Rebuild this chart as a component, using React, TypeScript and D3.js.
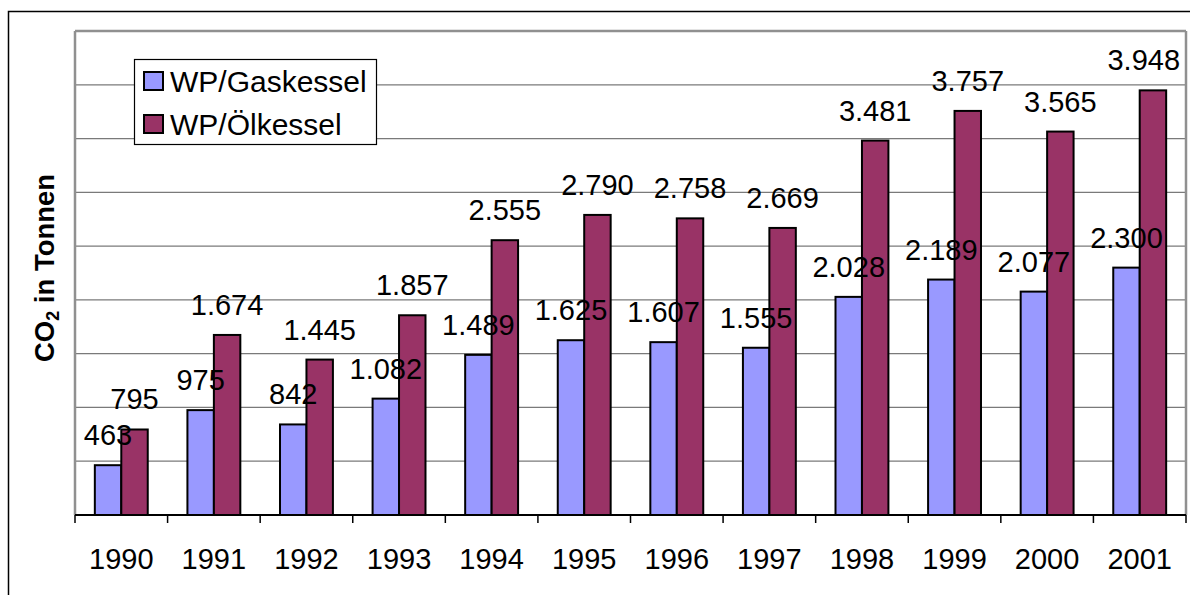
import React from "react";
import * as d3 from "d3";

const years = ["1990", "1991", "1992", "1993", "1994", "1995", "1996", "1997", "1998", "1999", "2000", "2001"];
const gasValues = [463, 975, 842, 1082, 1489, 1625, 1607, 1555, 2028, 2189, 2077, 2300];
const oilValues = [795, 1674, 1445, 1857, 2555, 2790, 2758, 2669, 3481, 3757, 3565, 3948];
const seriesNames = ["WP/Gaskessel", "WP/Ölkessel"];
const seriesColors = ["#9999FF", "#993366"];
const yTicks = [0, 500, 1000, 1500, 2000, 2500, 3000, 3500, 4000, 4500];

const W = 1190;
const H = 595;
const left = 75;
const right = 1186;
const top = 31;
const bottom = 515;
const font = "Liberation Sans, Arial, sans-serif";

const fmt = (v: number) => d3.format(",")(v).replace(/,/g, ".");

export default function App() {
  const x = d3.scaleBand<string>().domain(years).range([left, right]).paddingInner(0).paddingOuter(0);
  const bw = x.bandwidth();
  const barW = bw / 3.5;
  const inner = d3.scaleBand<number>().domain([0, 1]).range([0.75 * barW, 2.75 * barW]);
  const y = d3.scaleLinear().domain([0, 4500]).range([bottom, top]);
  const series = [gasValues, oilValues];
  const fs = 29;

  return (
    <svg width={W} height={H} style={{ position: "absolute", left: 0, top: 0, background: "#fff" }} fontFamily={font}>
      <rect x={0} y={0} width={W} height={H} fill="#fff" />
      <rect x={8.5} y={11.5} width={W + 10} height={H + 10} fill="none" stroke="#000" strokeWidth={1.5} />
      {yTicks.slice(1).map((t) => (
        <line key={t} x1={left} x2={right} y1={y(t)} y2={y(t)} stroke="#7a7a7a" strokeWidth={1.3} />
      ))}
      <line x1={left} x2={left} y1={top} y2={bottom} stroke="#909090" strokeWidth={2.5} />
      <line x1={right} x2={right} y1={top} y2={bottom} stroke="#909090" strokeWidth={2.5} />
      <line x1={left} x2={right} y1={top} y2={top} stroke="#909090" strokeWidth={2.5} />
      {series.map((vals, si) =>
        vals.map((v, i) => (
          <rect
            key={`${si}-${i}`}
            x={(x(years[i]) as number) + (inner(si) as number)}
            y={y(v)}
            width={inner.bandwidth()}
            height={bottom - y(v)}
            fill={seriesColors[si]}
            stroke="#000"
            strokeWidth={2}
          />
        ))
      )}
      <line x1={left} x2={right} y1={bottom} y2={bottom} stroke="#000" strokeWidth={2} />
      {years.concat(["end"]).map((yr, i) => {
        const xx = left + i * bw;
        return <line key={yr} x1={xx} x2={xx} y1={bottom} y2={bottom + 8} stroke="#000" strokeWidth={1.5} />;
      })}
      {years.map((yr) => (
        <text key={yr} x={(x(yr) as number) + bw / 2} y={569} textAnchor="middle" fontSize={fs} fill="#000">
          {yr}
        </text>
      ))}
      {series.map((vals, si) =>
        vals.map((v, i) => {
          const label = fmt(v);
          const cx = (x(years[i]) as number) + (inner(si) as number) + inner.bandwidth() / 2;
          const estW = label.length * fs * 0.5;
          const adj = Math.min(cx, 1180 - estW / 2);
          return (
            <text key={`l${si}-${i}`} x={adj} y={y(v) - 20} textAnchor="middle" fontSize={fs} fill="#000">
              {label}
            </text>
          );
        })
      )}
      <text
        transform={`translate(54,${(top + bottom) / 2 - 5}) rotate(-90)`}
        textAnchor="middle"
        fontSize={27.5}
        fontWeight="bold"
        fill="#000"
      >
        CO<tspan fontSize={18} dy={5}>2</tspan>
        <tspan dy={-5}> in Tonnen</tspan>
      </text>
      <rect x={134.5} y={59.5} width={242} height={85} fill="#fff" stroke="#000" strokeWidth={1.2} />
      {seriesNames.map((n, i) => (
        <g key={n}>
          <rect x={144} y={72 + i * 43} width={19} height={18} fill={seriesColors[i]} stroke="#000" strokeWidth={2} />
          <text x={170} y={92 + i * 43} fontSize={30} fill="#000">
            {n}
          </text>
        </g>
      ))}
    </svg>
  );
}
